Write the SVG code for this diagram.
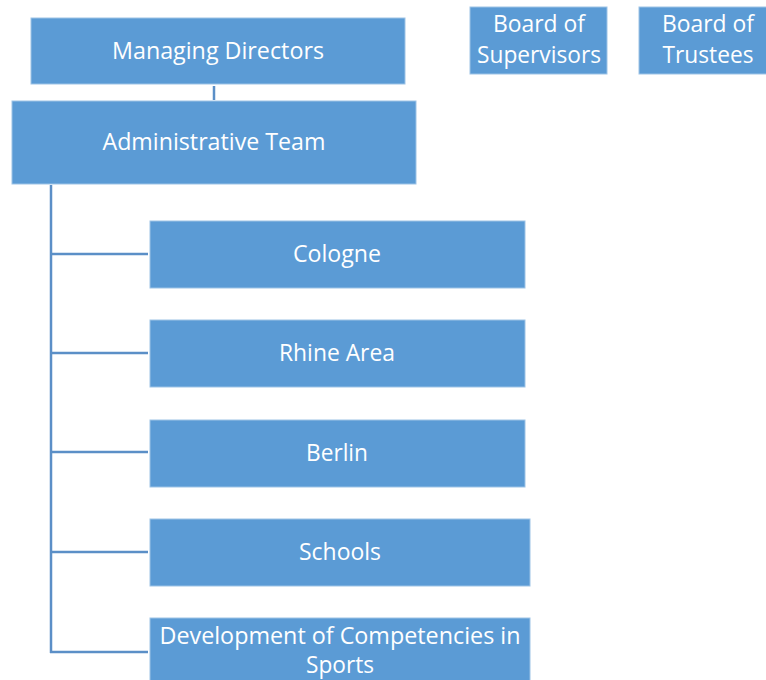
<svg xmlns="http://www.w3.org/2000/svg" width="766" height="680" viewBox="0 0 766 680">
  <style>
    .box { fill: #5B9BD5; stroke: #9DC3E6; stroke-width: 1; }
    .lbl { font-family: "Open Sans", "Liberation Sans", sans-serif; font-size: 23px; fill: #FFFFFF; text-anchor: middle; }
    .wire { stroke: #5B8FC7; stroke-width: 2.5; fill: none; }
  </style>
  <rect width="766" height="680" fill="#FFFFFF"/>

  <g id="connectors">
    <line class="wire" x1="214" y1="86" x2="214" y2="100"/>
    <line class="wire" x1="51" y1="185" x2="51" y2="653"/>
    <line class="wire" x1="50" y1="254" x2="148" y2="254"/>
    <line class="wire" x1="50" y1="353" x2="148" y2="353"/>
    <line class="wire" x1="50" y1="452" x2="148" y2="452"/>
    <line class="wire" x1="50" y1="552" x2="148" y2="552"/>
    <line class="wire" x1="50" y1="652" x2="148" y2="652"/>
  </g>

  <g id="managing-directors">
    <rect class="box" x="31" y="18" width="374" height="66"/>
    <text class="lbl" x="218" y="59" textLength="212" lengthAdjust="spacingAndGlyphs">Managing Directors</text>
  </g>

  <g id="board-of-supervisors">
    <rect class="box" x="470" y="7" width="137" height="67"/>
    <text class="lbl" x="539" y="32" textLength="92" lengthAdjust="spacingAndGlyphs">Board of</text>
    <text class="lbl" x="539" y="63" textLength="124" lengthAdjust="spacingAndGlyphs">Supervisors</text>
  </g>

  <g id="board-of-trustees">
    <rect class="box" x="639" y="7" width="128" height="67"/>
    <text class="lbl" x="708" y="32" textLength="92" lengthAdjust="spacingAndGlyphs">Board of</text>
    <text class="lbl" x="708" y="63" textLength="91" lengthAdjust="spacingAndGlyphs">Trustees</text>
  </g>

  <g id="administrative-team">
    <rect class="box" x="12" y="101" width="404" height="83"/>
    <text class="lbl" x="214" y="150" textLength="223" lengthAdjust="spacingAndGlyphs">Administrative Team</text>
  </g>

  <g id="cologne">
    <rect class="box" x="150" y="221" width="375" height="67"/>
    <text class="lbl" x="337" y="262" textLength="88" lengthAdjust="spacingAndGlyphs">Cologne</text>
  </g>

  <g id="rhine-area">
    <rect class="box" x="150" y="320" width="375" height="67"/>
    <text class="lbl" x="337" y="361" textLength="116" lengthAdjust="spacingAndGlyphs">Rhine Area</text>
  </g>

  <g id="berlin">
    <rect class="box" x="150" y="420" width="375" height="67"/>
    <text class="lbl" x="337" y="461" textLength="62" lengthAdjust="spacingAndGlyphs">Berlin</text>
  </g>

  <g id="schools">
    <rect class="box" x="150" y="519" width="380" height="67"/>
    <text class="lbl" x="340" y="560" textLength="82" lengthAdjust="spacingAndGlyphs">Schools</text>
  </g>

  <g id="development-of-competencies">
    <rect class="box" x="150" y="618" width="380" height="70"/>
    <text class="lbl" x="340" y="644" textLength="361" lengthAdjust="spacingAndGlyphs">Development of Competencies in</text>
    <text class="lbl" x="340" y="673" textLength="68" lengthAdjust="spacingAndGlyphs">Sports</text>
  </g>
</svg>
